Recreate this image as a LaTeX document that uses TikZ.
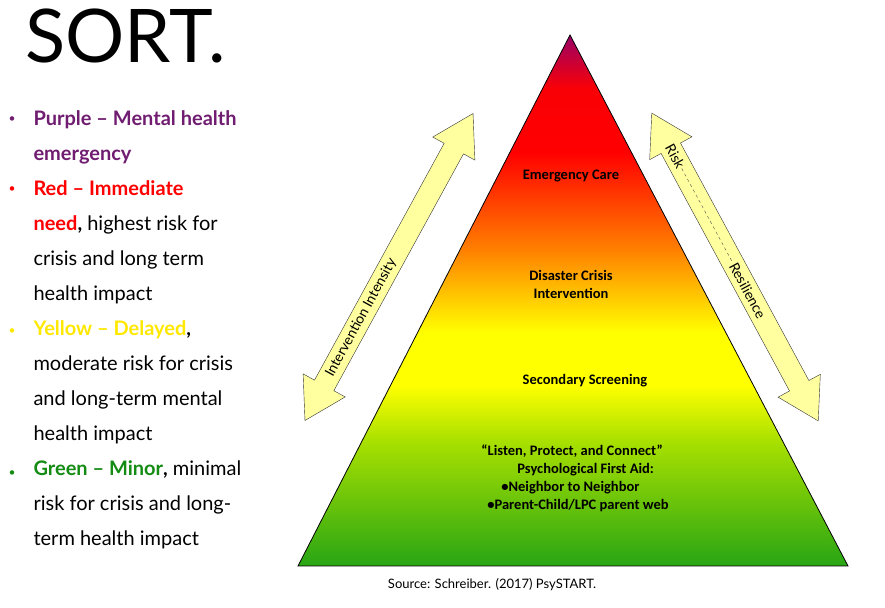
\documentclass[tikz,border=0pt]{standalone}
\usepackage{fontspec}
\setmainfont{Lato}
\newfontfamily\calib{Carlito}
\definecolor{sortpurple}{RGB}{112,28,112}
\definecolor{sortred}{RGB}{255,0,0}
\definecolor{sortyellow}{RGB}{255,232,0}
\definecolor{sortgreen}{RGB}{20,140,20}
\definecolor{arrowfill}{RGB}{255,255,160}
\definecolor{lime}{RGB}{170,225,0}
\definecolor{basegreen}{RGB}{40,165,20}
\pgfdeclareverticalshading{sortfill}{100bp}{%
  color(0bp)=(basegreen); color(25bp)=(basegreen);
  color(36.9bp)=(lime); color(42bp)=(yellow);
  color(47bp)=(yellow); color(54.8bp)=(orange);
  color(64bp)=(red); color(70bp)=(red!90!purple);
  color(75bp)=(violet!80!red); color(100bp)=(violet!80!red)}
\tikzset{
  lvl/.style={font=\calib\bfseries\fontsize{14.5}{18}\selectfont, align=center},
  side/.style={font=\fontsize{14}{15}\selectfont, transform shape, inner sep=1pt},
  blt/.style={font=\fontsize{20}{35}\selectfont, anchor=base west},
  dot/.style={font=\fontsize{12}{12}\selectfont, anchor=base west},
}
% double headed block arrow, centred at origin, along x
\newcommand{\dblarrow}{%
  \draw[black!80, fill=arrowfill, line join=miter]
    (-175,0) -- (-135,24) -- (-135,11) -- (135,11) -- (135,24) -- (175,0)
    -- (135,-24) -- (135,-11) -- (-135,-11) -- (-135,-24) -- cycle;}
\begin{document}
\begin{tikzpicture}[x=1pt,y=1pt]
\useasboundingbox (0,0) rectangle (885,607);
% pyramid
\coordinate (apex) at (570,572);
\coordinate (bl) at (298,41);
\coordinate (br) at (848,41);
\shade[shading=sortfill] (apex) -- (br) -- (bl) -- cycle;
\draw[thick, line join=miter] (apex) -- (br) -- (bl) -- cycle;
\node[lvl] (care) at (571,431) {Emergency Care};
\node[lvl] (crisis) at (571,323) {Disaster Crisis\\Intervention};
\node[lvl] (screen) at (585,226) {Secondary Screening};
\node[lvl, align=left] (aid) at (578,129) {\hspace*{-6pt}“Listen, Protect, and Connect”\\
  \hspace*{30pt}Psychological First Aid:\\ \hspace*{14pt}•Neighbor to Neighbor\\•Parent-Child/LPC parent web};
% side arrows
\begin{scope}[shift={(389,340)}, rotate=61.3]
  \dblarrow
  \node[side] (intens) at (-58,0) {Intervention Intensity};
\end{scope}
\begin{scope}[shift={(735,340)}, rotate=-61.6]
  \dblarrow
  \node[side, anchor=east] (risk) at (-112,0) {Risk};
  \node[side, anchor=west] (resil) at (-5,0) {Resilience};
  \draw[dashed, black!70] (risk.east) -- (resil.west);
\end{scope}
% title and list
\node[font=\fontsize{74}{74}\selectfont, anchor=base west] (title) at (22,544) {SORT.};
\node[dot, text=sortpurple] at (5,484) {•};
\node[dot, text=sortred] at (5,414) {•};
\node[dot, text=sortyellow] at (5,272) {•};
\node[dot, text=sortgreen] at (5,130) {•};
\node[blt, align=left, anchor=north west] (list) at (30,500) {%
  \textcolor{sortpurple}{\bfseries Purple – Mental health}\\
  \textcolor{sortpurple}{\bfseries emergency}\\
  \textcolor{sortred}{\bfseries Red – Immediate}\\
  \textcolor{sortred}{\bfseries need}\textbf{,} highest risk for\\
  crisis and long term\\
  health impact\\
  \textcolor{sortyellow}{\bfseries Yellow – Delayed}\textbf{,}\\
  moderate risk for crisis\\
  and long-term mental\\
  health impact\\
  \textcolor{sortgreen}{\bfseries Green – Minor}\textbf{,} minimal\\
  risk for crisis and long-\\
  term health impact};
\node[font=\fontsize{13}{15}\selectfont] (src) at (492,22) {Source: Schreiber. (2017) PsySTART.};
\end{tikzpicture}
\end{document}
